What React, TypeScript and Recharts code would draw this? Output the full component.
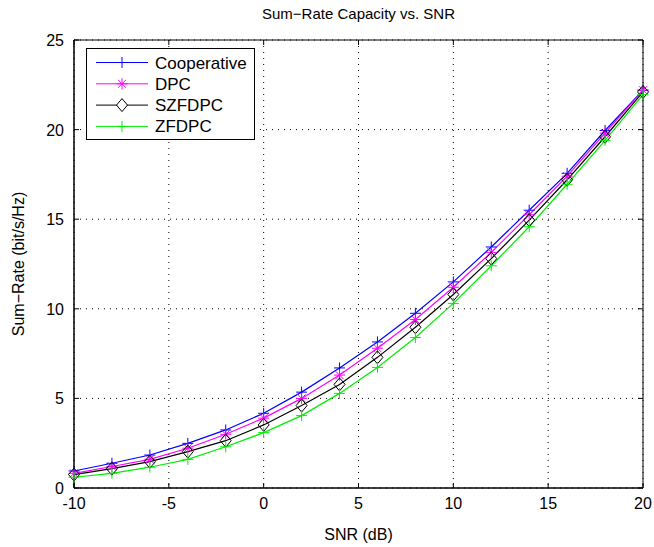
// Sum-rate capacity vs. SNR, MATLAB-style line chart
import { LineChart, Line, XAxis, YAxis, CartesianGrid, Legend, ReferenceArea } from 'recharts';

const SNR_DB = [-10, -8, -6, -4, -2, 0, 2, 4, 6, 8, 10, 12, 14, 16, 18, 20];
const COOPERATIVE = [0.95, 1.38, 1.84, 2.49, 3.24, 4.17, 5.35, 6.7, 8.15, 9.75, 11.5, 13.45, 15.5, 17.56, 19.95, 22.2];
const DPC = [0.82, 1.2, 1.6, 2.22, 3.0, 3.9, 5.0, 6.3, 7.8, 9.4, 11.2, 13.15, 15.25, 17.4, 19.8, 22.2];
const SZFDPC = [0.75, 1.08, 1.47, 2.03, 2.64, 3.52, 4.6, 5.78, 7.29, 8.97, 10.8, 12.8, 14.95, 17.2, 19.6, 22.1];
const ZFDPC = [0.6, 0.82, 1.16, 1.6, 2.3, 3.09, 4.04, 5.28, 6.73, 8.4, 10.3, 12.4, 14.58, 16.95, 19.4, 21.95];

const X_TICKS = [-10, -5, 0, 5, 10, 15, 20];
const Y_TICKS = [0, 5, 10, 15, 20, 25];

const FONT = '"Liberation Sans", Arial, Helvetica, sans-serif';
const W = 654;
const H = 547;
const M = { top: 40, right: 11, bottom: 0, left: 0 };
const Y_AXIS_W = 74;
const X_AXIS_H = 59;
const PLOT_W = W - M.left - M.right - Y_AXIS_W;
const PLOT_H = H - M.top - M.bottom - X_AXIS_H;

const data = SNR_DB.map((snr, i) => ({
  snr,
  coop: COOPERATIVE[i],
  dpc: DPC[i],
  szf: SZFDPC[i],
  zf: ZFDPC[i],
}));

type Marker = 'plus' | 'star' | 'diamond';

function markerPath(kind: Marker, cx: number, cy: number) {
  const r = 5.5;
  if (kind === 'plus') return `M${cx - r},${cy}h${2 * r}M${cx},${cy - r}v${2 * r}`;
  if (kind === 'star') {
    const d = r * 0.72;
    return `M${cx - r},${cy}h${2 * r}M${cx},${cy - r}v${2 * r}M${cx - d},${cy - d}l${2 * d},${2 * d}M${cx - d},${cy + d}l${2 * d},${-2 * d}`;
  }
  return `M${cx},${cy - 6.5}L${cx + 5.5},${cy}L${cx},${cy + 6.5}L${cx - 5.5},${cy}Z`;
}

const SERIES: { key: string; name: string; color: string; marker: Marker }[] = [
  { key: 'coop', name: 'Cooperative', color: '#0000ff', marker: 'plus' },
  { key: 'dpc', name: 'DPC', color: '#ff00ff', marker: 'star' },
  { key: 'szf', name: 'SZFDPC', color: '#000000', marker: 'diamond' },
  { key: 'zf', name: 'ZFDPC', color: '#00ee00', marker: 'plus' },
];

function makeDot(kind: Marker, color: string) {
  return (props: any) => {
    const { cx, cy, index } = props;
    if (cx == null || cy == null) return <g key={index} />;
    return <path key={index} d={markerPath(kind, cx, cy)} stroke={color} strokeWidth={1} fill="none" />;
  };
}

function XTick(props: any) {
  const { x, y, payload } = props;
  return (
    <g>
      <line x1={x} y1={y} x2={x} y2={y - 5} stroke="#000" />
      <line x1={x} y1={y - PLOT_H} x2={x} y2={y - PLOT_H + 5} stroke="#000" />
      <text x={x} y={y + 21} textAnchor="middle" fontSize={16} fontFamily={FONT} fill="#000">
        {payload.value}
      </text>
    </g>
  );
}

function YTick(props: any) {
  const { x, y, payload } = props;
  return (
    <g>
      <line x1={x} y1={y} x2={x + 5} y2={y} stroke="#000" />
      <line x1={x + PLOT_W} y1={y} x2={x + PLOT_W - 5} y2={y} stroke="#000" />
      <text x={x - 10} y={y + 6} textAnchor="end" fontSize={16} fontFamily={FONT} fill="#000">
        {payload.value}
      </text>
    </g>
  );
}

function LegendBox() {
  return (
    <svg width={170} height={93} style={{ display: 'block' }}>
      <rect x={0.5} y={0.5} width={168} height={91} fill="#fff" stroke="#000" />
      {SERIES.map((s, i) => {
        const cy = 14.5 + i * 21.3;
        return (
          <g key={s.key}>
            <line x1={10} y1={cy} x2={62} y2={cy} stroke={s.color} />
            <path d={markerPath(s.marker, 36, cy)} stroke={s.color} fill={s.marker === 'diamond' ? '#fff' : 'none'} />
            <text x={69} y={cy + 6} fontSize={17} fontFamily={FONT} fill="#000">
              {s.name}
            </text>
          </g>
        );
      })}
    </svg>
  );
}

export default function App() {
  return (
    <div style={{ position: 'absolute', left: 0, top: 0, width: W, height: H, background: '#fff' }}>
      <div
        style={{
          position: 'absolute',
          top: 5,
          left: Y_AXIS_W,
          width: PLOT_W,
          textAlign: 'center',
          fontFamily: FONT,
          fontSize: 15,
        }}
      >
        Sum−Rate Capacity vs. SNR
      </div>
      <LineChart width={W} height={H} data={data} margin={M}>
        <CartesianGrid stroke="#000" strokeDasharray="1 5" strokeWidth={1} />
        <XAxis
          dataKey="snr"
          type="number"
          domain={[-10, 20]}
          ticks={X_TICKS}
          height={X_AXIS_H}
          tickLine={false}
          tickSize={0}
          tickMargin={0}
          stroke="#000"
          tick={<XTick />}
          label={{
            content: () => (
              <text x={Y_AXIS_W + PLOT_W / 2} y={540} textAnchor="middle" fontSize={16} fontFamily={FONT} fill="#000">
                SNR (dB)
              </text>
            ),
          }}
        />
        <YAxis
          type="number"
          domain={[0, 25]}
          ticks={Y_TICKS}
          width={Y_AXIS_W}
          tickLine={false}
          tickSize={0}
          tickMargin={0}
          stroke="#000"
          tick={<YTick />}
          label={{
            content: () => (
              <text
                x={24}
                y={M.top + PLOT_H / 2}
                transform={`rotate(-90 24 ${M.top + PLOT_H / 2})`}
                textAnchor="middle"
                fontSize={16}
                fontFamily={FONT}
                fill="#000"
              >
                Sum−Rate (bit/s/Hz)
              </text>
            ),
          }}
        />
        <ReferenceArea x1={-10} x2={20} y1={0} y2={25} fill="none" stroke="#000" strokeWidth={1} ifOverflow="visible" />
        {SERIES.map((s) => (
          <Line
            key={s.key}
            dataKey={s.key}
            name={s.name}
            stroke={s.color}
            strokeWidth={1.2}
            dot={makeDot(s.marker, s.color)}
            activeDot={false}
            isAnimationActive={false}
          />
        ))}
        <Legend
          layout="vertical"
          align="center"
          verticalAlign="middle"
          wrapperStyle={{ left: 86, top: 48, width: 'auto', height: 'auto' }}
          content={() => <LegendBox />}
        />
      </LineChart>
    </div>
  );
}
